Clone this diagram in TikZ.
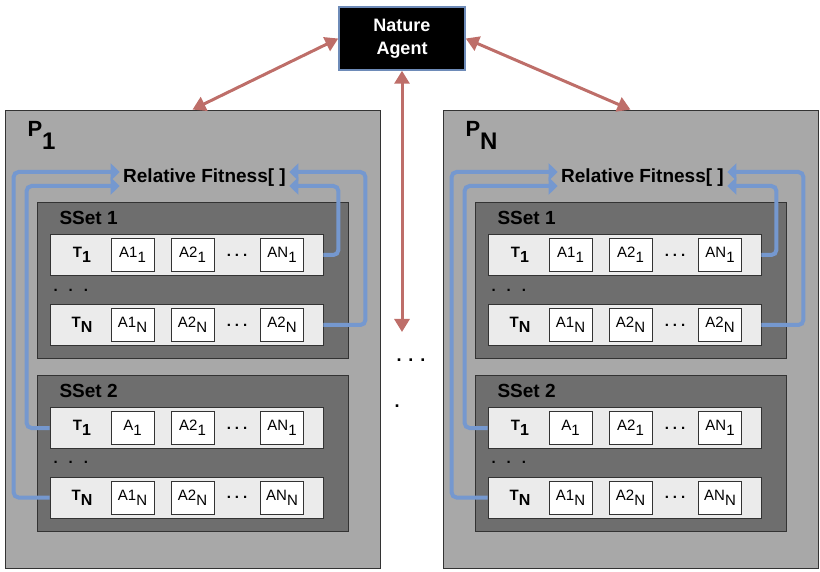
\documentclass[tikz,border=0pt]{standalone}
\usepackage{fontspec}
\setmainfont{Liberation Sans}
\usetikzlibrary{arrows.meta,positioning,calc}
\definecolor{NatureRed}{HTML}{BE6E69}
\definecolor{FitBlue}{HTML}{7598CF}
\definecolor{PanelGray}{HTML}{A8A8A8}
\definecolor{SSetGray}{HTML}{6E6E6E}
\definecolor{RowGray}{HTML}{EBEBEB}
\definecolor{AgentEdge}{HTML}{6E8BB8}
\newcommand{\fs}[1]{\fontsize{#1}{#1}\selectfont}
\newcommand{\lowsub}[3][5pt]{#2\raisebox{-#1}{#3}}
% one task row: name, x shift, y, T index, three agent labels
\newcommand{\taskline}[7]{%
  \node[taskrow] (#1) at (186.5+#2,#3) {};
  \node[tlab] (#1t) at (82+#2,#3) {\lowsub{T}{\fs{16}#4}};
  \node[abox] (#1a) at (132.5+#2,#3) {#5};
  \node[abox] (#1b) at (192.5+#2,#3) {#6};
  \node[font=\fs{15}\bfseries] (#1d) at (237+#2,#3) {.\hspace{4pt}.\hspace{4pt}.};
  \node[abox] (#1c) at (282+#2,#3) {#7};
}

\begin{document}
\begin{tikzpicture}[x=1pt, y=-1pt,
  panel/.style={draw=black!80, fill=PanelGray, line width=0.8pt, minimum width=375, minimum height=458, inner sep=0},
  sset/.style={draw=black!80, fill=SSetGray, line width=0.8pt, minimum width=311, minimum height=156, inner sep=0},
  taskrow/.style={draw=black!80, fill=RowGray, line width=0.8pt, minimum width=273, minimum height=41, inner sep=0},
  abox/.style={draw=black!80, fill=white, line width=0.8pt, minimum width=43, minimum height=33, inner sep=0, font=\fs{15}},
  tlab/.style={font=\fs{15}\bfseries},
  natarrow/.style={NatureRed, line width=3pt, {Triangle[length=13pt,width=15pt]}-{Triangle[length=13pt,width=15pt]}},
  fitarrow/.style={FitBlue, line width=4pt, rounded corners=5pt, -{Triangle[length=9pt,width=17pt]}}]
  \useasboundingbox (0,0) rectangle (820,572);

  \foreach \dx/\p/\id in {0/1/a, 438/N/b} {
    \node[panel] (p\id) at (192.5+\dx,339) {};
    \node[anchor=base west, font=\fs{22}\bfseries] (pl\id) at (24+\dx,137) {\lowsub[13pt]{P}{\fs{24}\p}};
    \node[font=\fs{19}\bfseries] (rf\id) at (204.5+\dx,178) {Relative Fitness[ ]};
    % subsets
    \node[sset] (s1\id) at (192.5+\dx,280) {};
    \node[sset] (s2\id) at (192.5+\dx,453) {};
    \node[anchor=west, font=\fs{19}\bfseries] (sl1\id) at (56+\dx,218) {SSet 1};
    \node[anchor=west, font=\fs{19}\bfseries] (sl2\id) at (56+\dx,391) {SSet 2};
    \taskline{ra\id}{\dx}{255}{1}{\lowsub{A1}{1}}{\lowsub{A2}{1}}{\lowsub{AN}{1}}
    \taskline{rb\id}{\dx}{325}{N}{\lowsub{A1}{N}}{\lowsub{A2}{N}}{\lowsub{A2}{N}}
    \taskline{rc\id}{\dx}{428}{1}{\lowsub{A}{1}}{\lowsub{A2}{1}}{\lowsub{AN}{1}}
    \taskline{rd\id}{\dx}{497.5}{N}{\lowsub{A1}{N}}{\lowsub{A2}{N}}{\lowsub{AN}{N}}
    \node[anchor=west, font=\fs{15}\bfseries] (va\id) at (50+\dx,290) {.\hspace{11pt}.\hspace{11pt}.};
    \node[anchor=west, font=\fs{15}\bfseries] (vb\id) at (50+\dx,462) {.\hspace{11pt}.\hspace{11pt}.};
    % feedback to relative fitness
    \draw[fitarrow] (rd\id.west) -- ++(-36,0) |- ([yshift=6pt]rf\id.west);
    \draw[fitarrow] (rc\id.west) -- ++(-23,0) |- ([yshift=-8pt]rf\id.west);
    \draw[fitarrow] (ra\id.east) -- ++(15,0) |- ([yshift=-8pt]rf\id.east);
    \draw[fitarrow] (rb\id.east) -- ++(42,0) |- ([yshift=6pt]rf\id.east);
  }

  \node[draw=AgentEdge, fill=black, line width=1.5pt, minimum width=126, minimum height=63,
        text=white, font=\fontsize{18}{23}\selectfont\bfseries, align=center] (na) at (402,38.5) {Nature\\Agent};
  \coordinate (mid) at (402,332);
  \draw[natarrow] (na.west) -- (pa.north);
  \draw[natarrow] (na.east) -- (pb.north);
  \draw[natarrow] (na.south) -- (mid);
  \node[font=\fs{18}\bfseries] (dots) at (411,360) {.\hspace{7pt}.\hspace{7pt}.};
  \node[font=\fs{18}\bfseries] (dot) at (397,406) {.};
\end{tikzpicture}
\end{document}
